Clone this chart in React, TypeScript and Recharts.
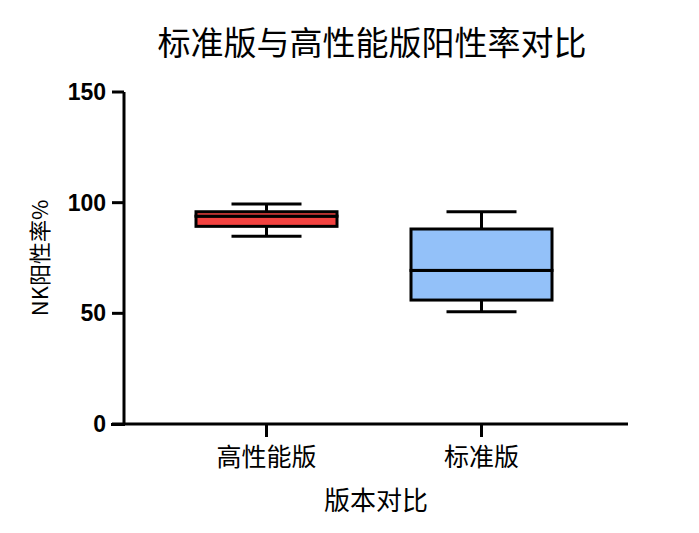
import { ComposedChart, Bar, XAxis, YAxis, Label } from 'recharts';

// values (NK positive rate, %)
const groups = ['高性能版', '标准版'];
const minValues = [84.8, 50.7];
const q1Values = [89.3, 56.0];
const medianValues = [93.9, 69.4];
const q3Values = [95.9, 88.1];
const maxValues = [99.4, 95.9];
const boxColors = ['#f34240', '#93c1f9'];
const yTicks = [0, 50, 100, 150];

const data = groups.map((name, i) => ({
  name,
  base: minValues[i],
  lowerWhisker: q1Values[i] - minValues[i],
  lowerBox: medianValues[i] - q1Values[i],
  upperBox: q3Values[i] - medianValues[i],
  upperWhisker: maxValues[i] - q3Values[i],
  color: boxColors[i],
}));

const CAP = 70;
const LINE = 3;

const LowerWhisker = (props: any) => {
  const { x, y, width, height } = props;
  const cx = x + width / 2;
  return (
    <g>
      <line x1={cx} x2={cx} y1={y} y2={y + height} stroke="#000" strokeWidth={LINE} />
      <line x1={cx - CAP / 2} x2={cx + CAP / 2} y1={y + height} y2={y + height} stroke="#000" strokeWidth={LINE} />
    </g>
  );
};

const UpperWhisker = (props: any) => {
  const { x, y, width, height } = props;
  const cx = x + width / 2;
  return (
    <g>
      <line x1={cx} x2={cx} y1={y} y2={y + height} stroke="#000" strokeWidth={LINE} />
      <line x1={cx - CAP / 2} x2={cx + CAP / 2} y1={y} y2={y} stroke="#000" strokeWidth={LINE} />
    </g>
  );
};

const BoxPart = (props: any) => {
  const { x, y, width, height, payload } = props;
  return <rect x={x} y={y} width={width} height={height} fill={payload.color} stroke="#000" strokeWidth={LINE} />;
};

const cjk = '"Noto Sans CJK SC", "Noto Sans", sans-serif';

export default function App() {
  return (
    <div style={{ position: 'fixed', left: 0, top: 0, width: 699, height: 533, background: '#fff' }}>
      <ComposedChart
        width={699}
        height={533}
        data={data}
        margin={{ top: 92, right: 71, bottom: 29, left: 0 }}
      >
        <XAxis
          dataKey="name"
          height={80}
          padding={{ left: 35, right: 39 }}
          axisLine={{ stroke: '#000', strokeWidth: LINE }}
          tickLine={{ stroke: '#000', strokeWidth: LINE }}
          tickSize={13}
          tickMargin={11}
          tick={{ fill: '#000', fontSize: 25, fontFamily: cjk }}
        >
          <Label
            content={({ viewBox }: any) => (
              <text
                x={viewBox.x + viewBox.width / 2}
                y={498}
                textAnchor="middle"
                dominantBaseline="central"
                fontSize={26}
                fontFamily={cjk}
                fill="#000"
              >
                版本对比
              </text>
            )}
          />
        </XAxis>
        <YAxis
          width={124}
          domain={[0, 150]}
          ticks={yTicks}
          allowDataOverflow
          axisLine={{ stroke: '#000', strokeWidth: LINE }}
          tickLine={{ stroke: '#000', strokeWidth: LINE }}
          tickSize={12}
          tickMargin={6}
          tick={{ fill: '#000', fontSize: 23, fontWeight: 'bold', fontFamily: '"Liberation Sans", Arial, sans-serif' }}
        >
          <Label
            content={({ viewBox }: any) => (
              <text
                x={38}
                y={viewBox.y + viewBox.height / 2}
                textAnchor="middle"
                dominantBaseline="central"
                fontSize={22}
                fontFamily={cjk}
                fill="#000"
                transform={`rotate(-90, 38, ${viewBox.y + viewBox.height / 2})`}
              >
                NK阳性率%
              </text>
            )}
          />
        </YAxis>
        <Bar dataKey="base" stackId="box" fill="none" barSize={141} isAnimationActive={false} />
        <Bar dataKey="lowerWhisker" stackId="box" shape={LowerWhisker} barSize={141} isAnimationActive={false} />
        <Bar dataKey="lowerBox" stackId="box" shape={BoxPart} barSize={141} isAnimationActive={false} />
        <Bar dataKey="upperBox" stackId="box" shape={BoxPart} barSize={141} isAnimationActive={false} />
        <Bar dataKey="upperWhisker" stackId="box" shape={UpperWhisker} barSize={141} isAnimationActive={false} />
      </ComposedChart>
      <svg width={699} height={533} style={{ position: 'absolute', left: 0, top: 0, pointerEvents: 'none' }}>
        <text x={372} y={41} textAnchor="middle" dominantBaseline="central" fontSize={33} fontFamily={cjk} fill="#000">
          标准版与高性能版阳性率对比
        </text>
        {/* x axis runs a little past the y axis, as in the original */}
        <line x1={111} x2={125} y1={424.5} y2={424.5} stroke="#000" strokeWidth={LINE} />
      </svg>
    </div>
  );
}
